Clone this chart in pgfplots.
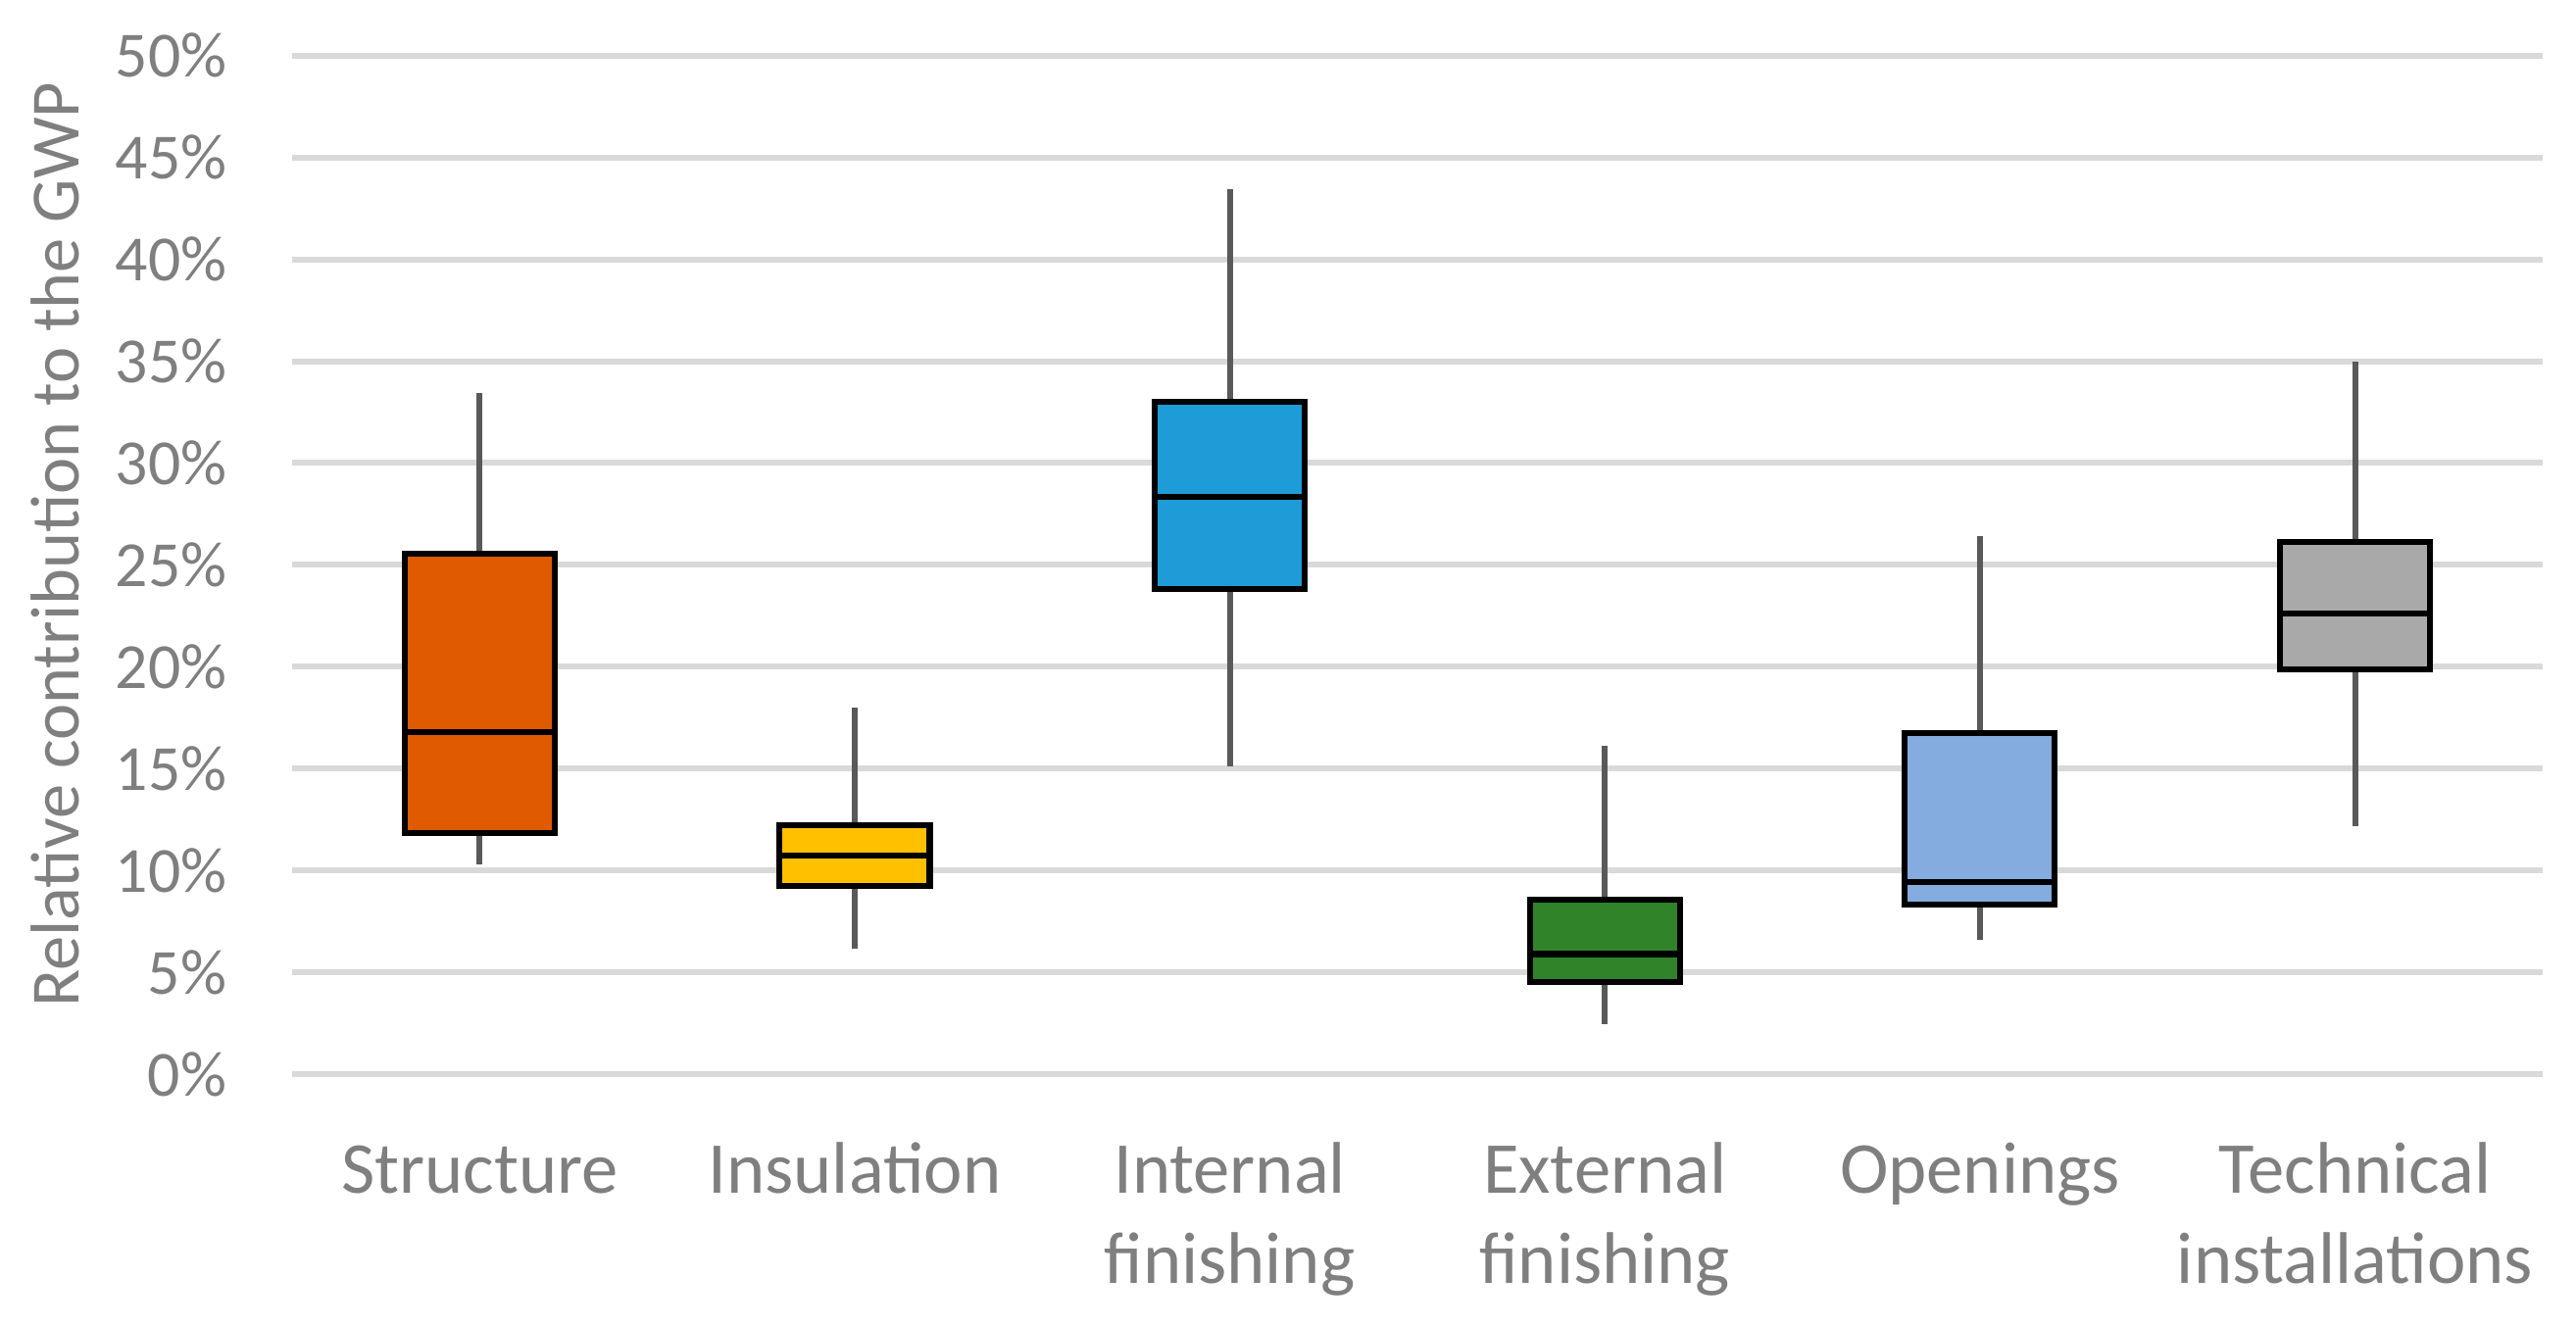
\documentclass[border=0pt]{standalone}
\usepackage{fontspec}
\setmainfont{Carlito}
\usepackage{pgfplots}
\pgfplotsset{compat=1.18}
\usepgfplotslibrary{statistics}

\definecolor{gridgray}{RGB}{217,217,217}
\definecolor{labelgray}{RGB}{127,127,127}
\definecolor{whiskergray}{RGB}{89,89,89}
\definecolor{cstructure}{RGB}{224,90,0}
\definecolor{cinsulation}{RGB}{255,192,0}
\definecolor{cinternal}{RGB}{29,156,216}
\definecolor{cexternal}{RGB}{49,131,42}
\definecolor{copenings}{RGB}{132,172,222}
\definecolor{ctechnical}{RGB}{169,169,169}

\begin{document}
\begin{tikzpicture}
\path[use as bounding box] (-56.7pt,-48.9pt) rectangle (443.3pt,208.5pt);
\begin{axis}[
  scale only axis,
  width=436.8pt, height=197.7pt,
  xmin=-0.5, xmax=5.5,
  ymin=0, ymax=50,
  axis line style={draw=none},
  major tick style={draw=none},
  ytick={0,5,...,50},
  xtick={0,1,2,3,4,5},
  xticklabels={{\strut Structure},{\strut Insulation},{\strut Internal\\finishing},{\strut External\\finishing},{\strut Openings},{\strut Technical\\installations}},
  ymajorgrids,
  grid style={gridgray, line width=1.15pt},
  yticklabel={\pgfmathparse{int(round(\tick))}\pgfmathresult\%},
  yticklabel style={anchor=east, inner sep=0pt, xshift=-12.5pt,
    font=\fontsize{12.5}{15}\selectfont, text=labelgray},
  xticklabel style={anchor=north, inner sep=0pt, yshift=-10.75pt, align=center,
    font=\fontsize{14.2}{17.5}\selectfont, text=labelgray},
  ylabel={Relative contribution to the GWP},
  ylabel style={at={(axis description cs:0,0.52)}, anchor=center, yshift=46pt,
    inner sep=0pt, font=\fontsize{13.4}{16}\selectfont, text=labelgray},
  boxplot/draw direction=y,
  boxplot/box extend=0.4,
  boxplot/whisker extend=0,
  boxplot/every whisker/.style={draw=whiskergray, line width=1.15pt},
  boxplot/every box/.style={draw=black, line width=1.15pt},
  boxplot/every median/.style={draw=black, line width=1.15pt},
]
% Structure
\addplot[fill=cstructure, boxplot prepared={draw position=0,
  lower whisker=10.27, lower quartile=11.81, median=16.81,
  upper quartile=25.54, upper whisker=33.46}] coordinates {};
% Insulation
\addplot[fill=cinsulation, boxplot prepared={draw position=1,
  lower whisker=6.15, lower quartile=9.22, median=10.74,
  upper quartile=12.23, upper whisker=17.99}] coordinates {};
% Internal finishing
\addplot[fill=cinternal, boxplot prepared={draw position=2,
  lower whisker=15.12, lower quartile=23.80, median=28.34,
  upper quartile=33.00, upper whisker=43.46}] coordinates {};
% External finishing
\addplot[fill=cexternal, boxplot prepared={draw position=3,
  lower whisker=2.43, lower quartile=4.52, median=5.89,
  upper quartile=8.54, upper whisker=16.11}] coordinates {};
% Openings
\addplot[fill=copenings, boxplot prepared={draw position=4,
  lower whisker=6.57, lower quartile=8.31, median=9.44,
  upper quartile=16.74, upper whisker=26.42}] coordinates {};
% Technical installations
\addplot[fill=ctechnical, boxplot prepared={draw position=5,
  lower whisker=12.16, lower quartile=19.88, median=22.60,
  upper quartile=26.13, upper whisker=35.00}] coordinates {};
\end{axis}
\end{tikzpicture}
\end{document}
